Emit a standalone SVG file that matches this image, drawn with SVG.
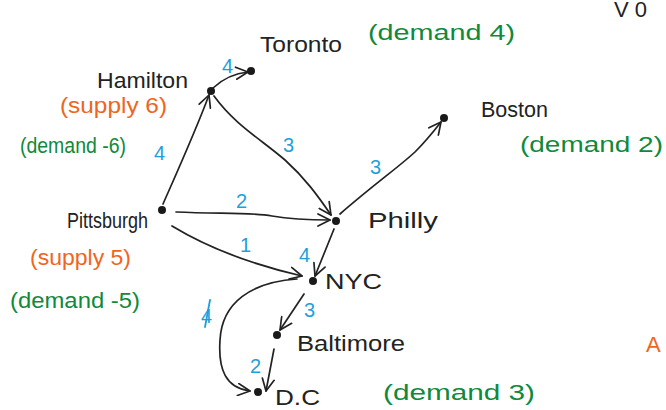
<svg xmlns="http://www.w3.org/2000/svg" width="666" height="410" viewBox="0 0 666 410">
<style>
.bg{fill:#ffffff}
.city{font-family:"Liberation Sans","DejaVu Sans",sans-serif;fill:#222222;font-size:22px}
.green{font-family:"Liberation Sans","DejaVu Sans",sans-serif;fill:#0f8a3a;font-size:22px}
.orange{font-family:"Liberation Sans","DejaVu Sans",sans-serif;fill:#f0651d;font-size:22px}
.cap{font-family:"Liberation Sans","DejaVu Sans",sans-serif;fill:#1e9fdc;font-size:20px}
.edge{fill:none;stroke:#222222;stroke-width:1.7;stroke-linecap:round;stroke-linejoin:round}
.dot{fill:#1a1a1a}
</style>
<defs>
<marker id="arr" viewBox="0 0 14 14" refX="13" refY="7" markerWidth="14" markerHeight="14" markerUnits="userSpaceOnUse" orient="auto">
<path d="M1,1 L13,7 L1,13" fill="none" stroke="#222222" stroke-width="1.7" stroke-linecap="round" stroke-linejoin="round"/>
</marker>
</defs>
<rect class="bg" x="0" y="0" width="666" height="410"/>

<g id="connectors">
<path class="edge" marker-end="url(#arr)" d="M163,204 C178,170 196,130 209,95"/>
<path class="edge" marker-end="url(#arr)" d="M213,88 Q228,74 248,72"/>
<path class="edge" marker-end="url(#arr)" d="M214,96 C235,125 262,140 285,160 C305,178 318,196 331,215"/>
<path class="edge" marker-end="url(#arr)" d="M176,212 C220,214 250,212 272,216 C295,220 312,220 330,220"/>
<path class="edge" marker-end="url(#arr)" d="M172,226 C205,246 250,264 302,276"/>
<path class="edge" marker-end="url(#arr)" d="M340,214 C372,186 400,166 415,152 C426,141 434,131 441,122"/>
<path class="edge" marker-end="url(#arr)" d="M334,229 L315,276"/>
<path class="edge" marker-end="url(#arr)" d="M304,294 L280,330"/>
<path class="edge" marker-end="url(#arr)" d="M274,349 L266,391"/>
<path class="edge" marker-end="url(#arr)" d="M297,279 C252,282 222,302 220,340 C218,370 226,388 250,391"/>
<text class="cap" x="222" y="73">4</text>
<text class="cap" x="154" y="160">4</text>
<text class="cap" x="283" y="152">3</text>
<text class="cap" x="236" y="208">2</text>
<text class="cap" x="240" y="252">1</text>
<text class="cap" x="370" y="174">3</text>
<text class="cap" x="299" y="262">4</text>
<text class="cap" x="304" y="317">3</text>
<text class="cap" x="250" y="373">2</text>
<text class="cap" x="201" y="323" font-size="18">4</text>
<path d="M210,300 L205,327" fill="none" stroke="#1e9fdc" stroke-width="1.8" stroke-linecap="round"/>
</g>

<g id="hamilton">
<circle class="dot" cx="211" cy="91" r="4"/>
<text class="city" x="97" y="88" textLength="91" lengthAdjust="spacingAndGlyphs">Hamilton</text>
<text class="orange" x="60" y="113" textLength="107" lengthAdjust="spacingAndGlyphs">(supply  6)</text>
<text class="green" x="20" y="153" textLength="106" lengthAdjust="spacingAndGlyphs">(demand -6)</text>
</g>

<g id="toronto">
<circle class="dot" cx="251" cy="71" r="4"/>
<text class="city" x="260" y="52" textLength="82" lengthAdjust="spacingAndGlyphs">Toronto</text>
<text class="green" x="368" y="40" textLength="147" lengthAdjust="spacingAndGlyphs">(demand   4)</text>
</g>

<g id="boston">
<circle class="dot" cx="444" cy="118" r="4"/>
<text class="city" x="481" y="117" textLength="67" lengthAdjust="spacingAndGlyphs">Boston</text>
<text class="green" x="520" y="152" textLength="143" lengthAdjust="spacingAndGlyphs">(demand   2)</text>
</g>

<g id="pittsburgh">
<circle class="dot" cx="162" cy="210" r="4"/>
<text class="city" x="67" y="228" font-size="18" textLength="81" lengthAdjust="spacingAndGlyphs">Pittsburgh</text>
<text class="orange" x="30" y="265" textLength="101" lengthAdjust="spacingAndGlyphs">(supply 5)</text>
<text class="green" x="10" y="308" font-size="24" textLength="130" lengthAdjust="spacingAndGlyphs">(demand -5)</text>
</g>

<g id="philly">
<circle class="dot" cx="336" cy="221" r="4"/>
<text class="city" x="368" y="228" font-size="25" textLength="70" lengthAdjust="spacingAndGlyphs">Philly</text>
</g>

<g id="nyc">
<circle class="dot" cx="313" cy="281" r="4"/>
<text class="city" x="325" y="289" font-size="25" textLength="57" lengthAdjust="spacingAndGlyphs">NYC</text>
</g>

<g id="baltimore">
<circle class="dot" cx="277" cy="335" r="4"/>
<text class="city" x="297" y="351" font-size="21" textLength="108" lengthAdjust="spacingAndGlyphs">Baltimore</text>
</g>

<g id="dc">
<circle class="dot" cx="258" cy="392" r="4"/>
<text class="city" x="275" y="405" font-size="22" textLength="45" lengthAdjust="spacingAndGlyphs">D.C</text>
<text class="green" x="383" y="400" font-size="24" textLength="152" lengthAdjust="spacingAndGlyphs">(demand   3)</text>
</g>

<g id="edge-fragments">
<text class="orange" x="646" y="352" font-size="24">A</text>
<text class="city" x="614" y="17" font-size="13">V  0</text>
</g>
</svg>
